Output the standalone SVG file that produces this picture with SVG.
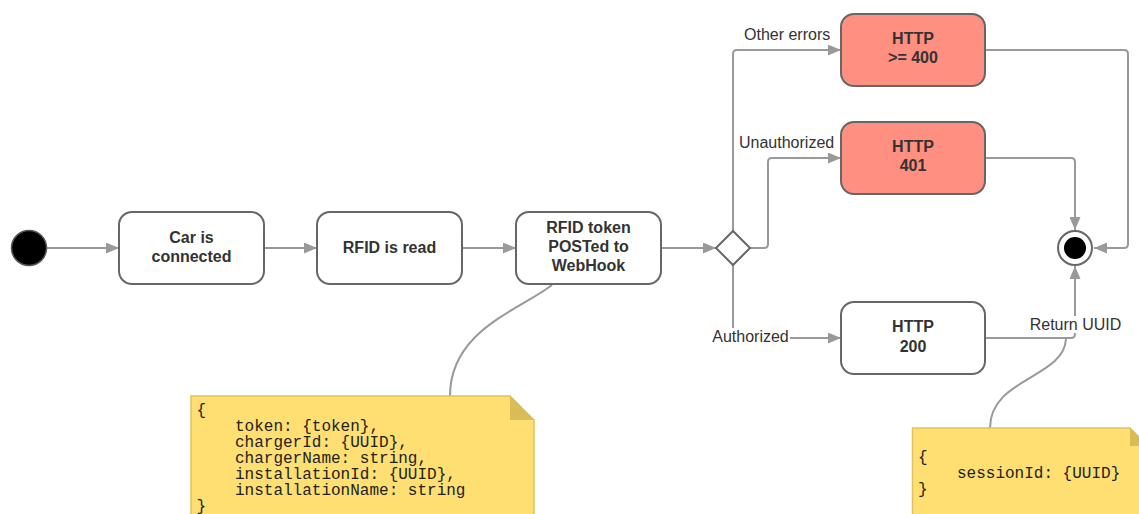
<svg xmlns="http://www.w3.org/2000/svg" width="1139" height="514" viewBox="0 0 1139 514">
<defs>
<marker id="arr" markerUnits="userSpaceOnUse" markerWidth="13" markerHeight="11" refX="13" refY="5.5" orient="auto">
<path d="M0,0 L13,5.5 L0,11 Z" fill="#999"/>
</marker>
<style>
.node{fill:#fff;stroke:#666;stroke-width:2}
.err{fill:#ff8f80;stroke:#666;stroke-width:2}
.nt{font-family:"Liberation Sans",Arial,sans-serif;font-weight:bold;font-size:16px;fill:#333;text-anchor:middle}
.lbl{font-family:"Liberation Sans",Arial,sans-serif;font-size:16px;fill:#333}
.con{fill:none;stroke:#999;stroke-width:2}
.conA{fill:none;stroke:#999;stroke-width:2;marker-end:url(#arr)}
.note{fill:#ffdf71;stroke:#e0c35c;stroke-width:1.5}
.fold{fill:#d9bb58}
.mono{font-family:"Liberation Mono","Courier New",monospace;font-size:16px;fill:#222}
</style>
</defs>
<rect width="1139" height="514" fill="#fff"/>

<g id="connectors">
<path class="conA" d="M47,248 L119,248"/>
<path class="conA" d="M264,248 L317,248"/>
<path class="conA" d="M462,248 L516,248"/>
<path class="conA" d="M661,248 L716,248"/>
<path class="conA" d="M733,231 L733,54 Q733,50 737,50 L841,50"/>
<path class="conA" d="M750,248 L764,248 Q768,248 768,244 L768,162 Q768,158 772,158 L841,158"/>
<path class="conA" d="M733,265 L733,334 Q733,338 737,338 L841,338"/>
<path class="conA" d="M985,50 L1124,50 Q1128,50 1128,54 L1128,244 Q1128,248 1124,248 L1094,248"/>
<path class="conA" d="M985,158 L1071,158 Q1075,158 1075,162 L1075,230"/>
<path class="conA" d="M985,338 L1071,338 Q1075,338 1075,334 L1075,266"/>
<path class="con" d="M552,285 C520,310 450,330 450,396"/>
<path class="con" d="M1066,339 C1064,378 990,378 990,428"/>
<g id="labels">
<text class="lbl" x="744" y="40">Other errors</text>
<text class="lbl" x="739" y="148">Unauthorized</text>
<rect x="711" y="328" width="79" height="17" fill="#fff"/>
<text class="lbl" x="750.5" y="342" text-anchor="middle">Authorized</text>
<rect x="1029" y="316" width="93" height="17" fill="#fff"/>
<text class="lbl" x="1075.5" y="329.5" text-anchor="middle">Return UUID</text>
</g>
</g>

<g id="start">
<circle cx="29" cy="248" r="17.5" fill="#000" stroke="#555" stroke-width="1.5"/>
</g>

<g id="car-connected">
<rect class="node" x="119" y="212" width="145" height="72" rx="13"/>
<text class="nt" x="191.5" y="243">Car is</text>
<text class="nt" x="191.5" y="262">connected</text>
</g>

<g id="rfid-read">
<rect class="node" x="317" y="212" width="145" height="72" rx="13"/>
<text class="nt" x="389.5" y="252.5">RFID is read</text>
</g>

<g id="rfid-post">
<rect class="node" x="516" y="212" width="145" height="72" rx="13"/>
<text class="nt" x="588.5" y="233">RFID token</text>
<text class="nt" x="588.5" y="252">POSTed to</text>
<text class="nt" x="588.5" y="271">WebHook</text>
</g>

<g id="decision">
<polygon points="733,231 750,248 733,265 716,248" fill="#fff" stroke="#666" stroke-width="2"/>
</g>

<g id="http-400">
<rect class="err" x="841" y="14" width="144" height="72" rx="13"/>
<text class="nt" x="913" y="44.3">HTTP</text>
<text class="nt" x="913" y="63.3">&gt;= 400</text>
</g>

<g id="http-401">
<rect class="err" x="841" y="122" width="144" height="72" rx="13"/>
<text class="nt" x="913" y="152.3">HTTP</text>
<text class="nt" x="913" y="171.3">401</text>
</g>

<g id="http-200">
<rect class="node" x="841" y="302" width="144" height="72" rx="13"/>
<text class="nt" x="913" y="332.3">HTTP</text>
<text class="nt" x="913" y="351.5">200</text>
</g>

<g id="end">
<circle cx="1075" cy="248" r="17" fill="#fff" stroke="#666" stroke-width="2"/>
<circle cx="1075" cy="248" r="11" fill="#000"/>
</g>

<g id="note-request">
<path class="note" d="M191,396 L510,396 L534,420 L534,530 L191,530 Z"/>
<path class="fold" d="M510,396 L510,420 L534,420 Z"/>
<text class="mono" x="196.5" y="415">{</text>
<text class="mono" x="235" y="431">token: {token},</text>
<text class="mono" x="235" y="447">chargerId: {UUID},</text>
<text class="mono" x="235" y="463">chargerName: string,</text>
<text class="mono" x="235" y="479">installationId: {UUID},</text>
<text class="mono" x="235" y="495">installationName: string</text>
<text class="mono" x="196.5" y="511">}</text>
</g>

<g id="note-response">
<path class="note" d="M912.5,428 L1130,428 L1148,446 L1148,530 L912.5,530 Z"/>
<path class="fold" d="M1130,428 L1130,446 L1148,446 Z"/>
<text class="mono" x="918" y="462">{</text>
<text class="mono" x="957" y="478">sessionId: {UUID}</text>
<text class="mono" x="918" y="494">}</text>
</g>
</svg>
